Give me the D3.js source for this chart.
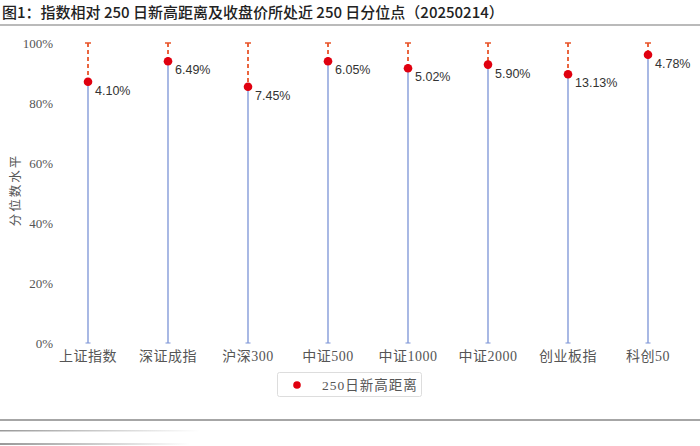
<!DOCTYPE html>
<html>
<head>
<meta charset="utf-8">
<script src="https://cdn.jsdelivr.net/npm/d3@7"></script>
<style>
  body { margin: 0; background: #fff; }
  svg { display: block; }
</style>
</head>
<body>
<div id="chart"></div>
<script>
const width = 700;
const height = 446;

// data
const categories = ['上证指数', '深证成指', '沪深300', '中证500', '中证1000', '中证2000', '创业板指', '科创50'];
const percentiles = [87.1, 93.9, 85.4, 93.9, 91.6, 92.8, 89.6, 96.1];
const distLabels = ['4.10%', '6.49%', '7.45%', '6.05%', '5.02%', '5.90%', '13.13%', '4.78%'];
const yTicks = [0, 20, 40, 60, 80, 100];

const serif = '"Liberation Serif", "Noto Sans CJK SC", serif';
const sans = '"Liberation Sans", Arial, sans-serif';
const cjk = '"Noto Sans CJK SC", sans-serif';

const svg = d3.select('#chart').append('svg')
  .attr('width', width).attr('height', height);

// title
svg.append('text')
  .attr('x', 2).attr('y', 18)
  .style('font-family', cjk)
  .style('font-size', '15px')
  .style('font-weight', 500)
  .style('fill', '#222')
  .text('图1：指数相对 250 日新高距离及收盘价所处近 250 日分位点（20250214）');
svg.append('line')
  .attr('x1', 0).attr('x2', width).attr('y1', 25).attr('y2', 25)
  .style('stroke', '#777').style('stroke-width', 1.2);

const x = d3.scaleBand().domain(categories).range([48, 688]);
const y = d3.scaleLinear().domain([0, 100]).range([343, 43]);

// y tick labels
svg.append('g').selectAll('text')
  .data(yTicks)
  .enter()
  .append('text')
  .attr('x', 53)
  .attr('y', (d) => y(d))
  .attr('dy', '0.35em')
  .attr('text-anchor', 'end')
  .style('font-family', serif)
  .style('font-size', '13px')
  .style('fill', '#555')
  .text((d) => d + '%');

// y axis title
svg.append('text')
  .attr('transform', 'translate(16,190) rotate(-90)')
  .attr('text-anchor', 'middle')
  .attr('dy', '0.35em')
  .style('font-family', cjk)
  .style('font-size', '12.5px')
  .style('fill', '#555')
  .style('letter-spacing', '2px')
  .text('分位数水平');

const cx = (d) => x(d) + x.bandwidth() / 2;
const g = svg.append('g');
const items = categories.map((c, i) => ({ name: c, v: percentiles[i], label: distLabels[i] }));

// blue line from 0 to current percentile
g.selectAll('.low')
  .data(items)
  .enter()
  .append('line')
  .attr('class', 'low')
  .attr('x1', (d) => cx(d.name)).attr('x2', (d) => cx(d.name))
  .attr('y1', y(0)).attr('y2', (d) => y(d.v))
  .style('stroke', '#7a93d6')
  .style('stroke-width', 1.3);

// small cap at the bottom
g.selectAll('.lowcap')
  .data(items)
  .enter()
  .append('line')
  .attr('class', 'lowcap')
  .attr('x1', (d) => cx(d.name) - 2.5).attr('x2', (d) => cx(d.name) + 2.5)
  .attr('y1', y(0)).attr('y2', y(0))
  .style('stroke', '#7a93d6')
  .style('stroke-width', 1);

// dashed red line up to the 250-day high
g.selectAll('.high')
  .data(items)
  .enter()
  .append('line')
  .attr('class', 'high')
  .attr('x1', (d) => cx(d.name)).attr('x2', (d) => cx(d.name))
  .attr('y1', y(100)).attr('y2', (d) => y(d.v))
  .style('stroke', '#e8552a')
  .style('stroke-width', 1.8)
  .style('stroke-dasharray', '4,3');

g.selectAll('.highcap')
  .data(items)
  .enter()
  .append('line')
  .attr('class', 'highcap')
  .attr('x1', (d) => cx(d.name) - 3).attr('x2', (d) => cx(d.name) + 3)
  .attr('y1', y(100)).attr('y2', y(100))
  .style('stroke', '#e8552a')
  .style('stroke-width', 1.5);

g.selectAll('circle')
  .data(items)
  .enter()
  .append('circle')
  .attr('cx', (d) => cx(d.name))
  .attr('cy', (d) => y(d.v))
  .attr('r', 4.3)
  .style('fill', '#e0000f');

g.selectAll('.lbl')
  .data(items)
  .enter()
  .append('text')
  .attr('class', 'lbl')
  .attr('x', (d) => cx(d.name) + 7)
  .attr('y', (d) => y(d.v) + 13)
  .style('font-family', sans)
  .style('font-size', '12.5px')
  .style('fill', '#333')
  .text((d) => d.label);

// category labels
svg.append('g').selectAll('text')
  .data(categories)
  .enter()
  .append('text')
  .attr('x', (d) => cx(d))
  .attr('y', 356)
  .attr('dy', '0.35em')
  .attr('text-anchor', 'middle')
  .style('font-family', serif)
  .style('font-size', '14px')
  .style('fill', '#555')
  .style('letter-spacing', '0.5px')
  .text((d) => d);

// legend
const legend = svg.append('g');
legend.append('rect')
  .attr('x', 277.5).attr('y', 372.5)
  .attr('width', 144).attr('height', 24)
  .attr('rx', 2)
  .style('fill', '#fff')
  .style('stroke', '#ddd');
legend.append('circle')
  .attr('cx', 297).attr('cy', 385).attr('r', 3.8)
  .style('fill', '#e0000f');
legend.append('text')
  .attr('x', 322).attr('y', 385)
  .attr('dy', '0.35em')
  .style('font-family', serif)
  .style('font-size', '13.5px')
  .style('fill', '#555')
  .style('letter-spacing', '1px')
  .text('250日新高距离');

// page rule and scan artefacts below
svg.append('line')
  .attr('x1', 0).attr('x2', width).attr('y1', 420).attr('y2', 420)
  .style('stroke', '#888').style('stroke-width', 1.5);
const fade = svg.append('defs').append('linearGradient').attr('id', 'fade');
fade.append('stop').attr('offset', '0%').attr('stop-color', '#999');
fade.append('stop').attr('offset', '100%').attr('stop-color', '#fff');
svg.append('rect')
  .attr('x', 0).attr('y', 430).attr('width', 200).attr('height', 1.5)
  .style('fill', 'url(#fade)');
svg.append('rect')
  .attr('x', 0).attr('y', 443).attr('width', 190).attr('height', 2)
  .style('fill', 'url(#fade)');
</script>
</body>
</html>
